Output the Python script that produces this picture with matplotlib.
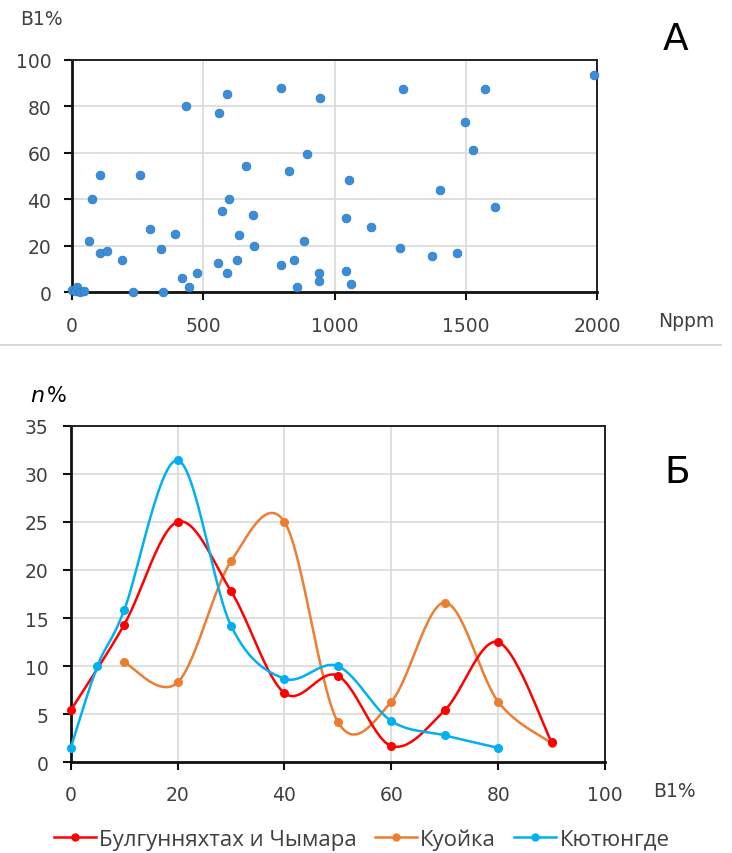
import numpy as np
import matplotlib
matplotlib.use("Agg")
from matplotlib import pyplot as plt
from matplotlib.lines import Line2D

# --- panel A: scatter, N ppm vs B1 %
n_ppm = [0, 10, 20, 30, 45, 63, 76, 108, 108, 133, 192, 234, 260, 298, 339, 348,
         392, 418, 433, 447, 475, 557, 559, 573, 592, 592, 599, 630, 637, 662,
         690, 692, 798, 798, 827, 846, 858, 884, 895, 943, 941, 941, 1044, 1044,
         1054, 1063, 1140, 1251, 1260, 1372, 1400, 1467, 1496, 1528, 1573, 1610, 1987]
b1_pct = [1, 0.5, 2, 0, 0.5, 22, 40, 50.6, 17, 17.5, 13.6, 0, 50.6, 27, 18.6, 0,
          25, 6, 80, 2, 8, 12.3, 77, 34.8, 85.5, 8, 40, 14, 24.6, 54.1,
          33.4, 19.8, 88.1, 11.7, 52.3, 13.9, 2, 21.9, 59.4, 83.4, 8, 4.6, 9.1, 32,
          48.4, 3.4, 27.9, 18.8, 87.5, 15.7, 44.1, 16.7, 73.4, 61, 87.5, 36.5, 93.5]

# --- panel Б: distribution curves, n % vs B1 %
red_x = [0, 10, 20, 30, 40, 50, 60, 70, 80, 90]
red_y = [5.4, 14.3, 25.0, 17.8, 7.2, 9.0, 1.7, 5.4, 12.5, 2.1]
orange_x = [10, 20, 30, 40, 50, 60, 70, 80, 90]
orange_y = [10.4, 8.3, 20.9, 25.0, 4.2, 6.3, 16.6, 6.3, 2.0]
blue_x = [0, 5, 10, 20, 30, 40, 50, 60, 70, 80]
blue_y = [1.5, 10.0, 15.8, 31.4, 14.2, 8.7, 10.0, 4.3, 2.8, 1.5]
series_names = ["Булгунняхтах и Чымара", "Куойка", "Кютюнгде"]


def smooth(xs, ys, steps=30):
    # Excel-like smoothed line: parametric Catmull-Rom Bezier through the points
    p = np.column_stack([xs, ys]).astype(float)
    p = np.vstack([p[0], p, p[-1]])
    out = []
    t = np.linspace(0, 1, steps)[:, None]
    for i in range(1, len(p) - 2):
        p0, p1, p2, p3 = p[i - 1], p[i], p[i + 1], p[i + 2]
        c1 = p1 + (p2 - p0) / 6
        c2 = p2 - (p3 - p1) / 6
        seg = ((1 - t) ** 3) * p1 + 3 * ((1 - t) ** 2) * t * c1 + 3 * (1 - t) * t ** 2 * c2 + t ** 3 * p2
        out.append(seg)
    out = np.vstack(out)
    return out[:, 0], out[:, 1]


tick_color = "#404040"
grid_color = "#d9d9d9"

fig = plt.figure(figsize=(7.32, 8.54), dpi=100)

# top panel
ax1 = fig.add_axes([0.0984, 0.6569, 0.7172, 0.2717])
ax1.scatter(n_ppm, b1_pct, s=40, color="#3a8dd8", edgecolors="#3079c0",
            linewidths=0.5, zorder=3, clip_on=False)
ax1.set_xlim(0, 2000)
ax1.set_ylim(0, 100)
ax1.set_xticks([0, 500, 1000, 1500, 2000])
ax1.set_yticks([0, 20, 40, 60, 80, 100])
ax1.grid(True, color=grid_color, linewidth=1.2)
ax1.set_axisbelow(True)

# bottom panel
ax2 = fig.add_axes([0.0966, 0.1062, 0.7299, 0.3942])
for xs, ys, col, z in [(orange_x, orange_y, "#ed7d31", 3),
                       (red_x, red_y, "#ff0000", 4),
                       (blue_x, blue_y, "#00b0f0", 5)]:
    sx, sy = smooth(xs, ys)
    ax2.plot(sx, sy, color=col, linewidth=1.8, zorder=z, clip_on=False)
    ax2.plot(xs, ys, "o", color=col, markersize=5.5, zorder=z + 0.5, clip_on=False)
ax2.set_xlim(0, 100)
ax2.set_ylim(0, 35)
ax2.set_xticks([0, 20, 40, 60, 80, 100])
ax2.set_yticks([0, 5, 10, 15, 20, 25, 30, 35])
ax2.grid(True, color=grid_color, linewidth=1.2)
ax2.set_axisbelow(True)

for ax in (ax1, ax2):
    for side in ("left", "bottom"):
        ax.spines[side].set_linewidth(2.0)
        ax.spines[side].set_color("#111111")
    for side in ("top", "right"):
        ax.spines[side].set_linewidth(1.4)
        ax.spines[side].set_color("#222222")
    ax.tick_params(direction="out", length=6, width=1.5, color="#111111",
                   labelsize=13.5, labelcolor=tick_color)
ax1.tick_params(axis="y", pad=9)
ax1.tick_params(axis="x", pad=11)
ax2.tick_params(axis="y", pad=10)
ax2.tick_params(axis="x", pad=10)

# axis captions and panel letters
fig.text(0.027, 0.977, "B1%", fontsize=13.5, color=tick_color, ha="left", va="center")
fig.text(0.899, 0.624, "Nppm", fontsize=13.5, color=tick_color, ha="left", va="center")
fig.text(0.923, 0.953, "А", fontsize=27, color="black", ha="center", va="center")
fig.text(0.041, 0.536, "n", fontsize=16, style="italic", color="black", ha="left", va="center")
fig.text(0.064, 0.536, "%", fontsize=15, color="black", ha="left", va="center")
fig.text(0.892, 0.073, "B1%", fontsize=13.5, color=tick_color, ha="left", va="center")
fig.text(0.925, 0.446, "Б", fontsize=27, color="black", ha="center", va="center")

# faint separator between panels
fig.add_artist(Line2D([0.0, 0.985], [0.595, 0.595], color="#d0d0d0", linewidth=1.2))

handles = [Line2D([], [], color="#ff0000", marker="o", markersize=5, linewidth=1.8),
           Line2D([], [], color="#ed7d31", marker="o", markersize=5, linewidth=1.8),
           Line2D([], [], color="#00b0f0", marker="o", markersize=5, linewidth=1.8)]
fig.legend(handles, series_names, loc="center", bbox_to_anchor=(0.494, 0.0164), ncol=3,
           frameon=False, handlelength=1.9, handletextpad=0.15, columnspacing=0.8,
           borderpad=0.2, prop={"family": "Open Sans", "size": 16}, labelcolor="#404040")

fig.savefig("out.png", dpi=100)
